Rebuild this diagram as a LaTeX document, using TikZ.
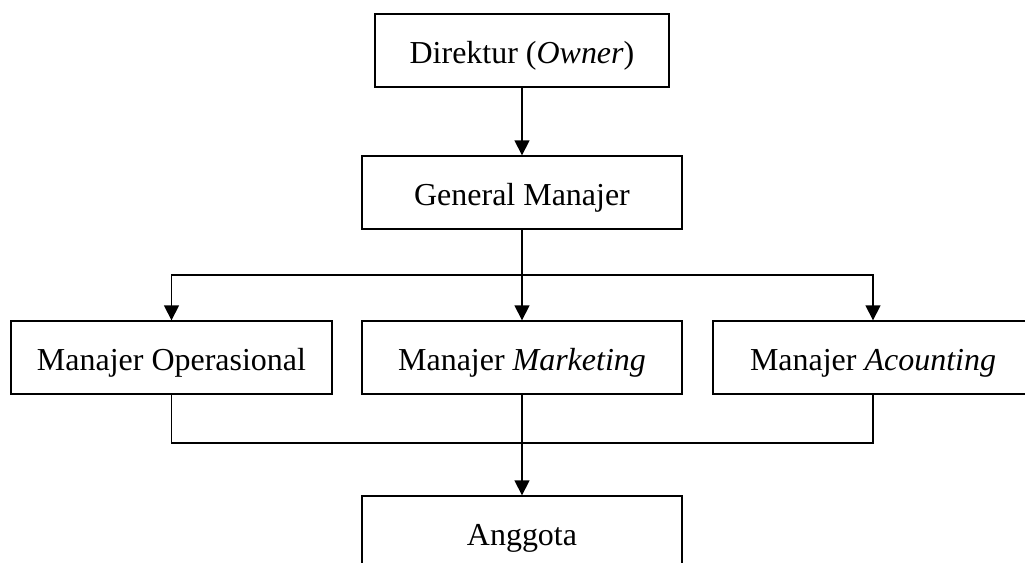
\documentclass[tikz,border=0pt]{standalone}
\usepackage{fontspec}
\setmainfont{Liberation Serif}
\usetikzlibrary{arrows.meta,positioning,calc}

\begin{document}
\begin{tikzpicture}[
  x=0.02cm, y=-0.02cm,
  box/.style={draw, line width=0.75pt, minimum width=6.4cm, minimum height=1.46cm,
              inner sep=0pt, text height=0.6cm, text depth=0.08cm,
              font=\fontsize{18.2}{22}\selectfont},
  link/.style={line width=0.75pt},
  arr/.style={link, -{Triangle[width=0.3cm, length=0.3cm]}}]

\useasboundingbox (0,0) rectangle (1025,563);
\clip (0,0) rectangle (1025,563);

% ================= top ====================================================
\node[box, minimum width=5.88cm] (dir) at (522,50.5) {Direktur (\textit{Owner})};
\node[box] (gm) at (522,192.5) {General Manajer};
\draw[arr] (dir) -- (gm);

% ================= managers ===============================================
\node[box, minimum width=6.42cm] (ops) at (171.5,357.5) {Manajer Operasional};
\node[box] (mkt) at (522,357.5) {Manajer \textit{Marketing}};
\node[box] (acc) at (873,357.5) {Manajer \textit{Acounting}};

\coordinate (split) at ($(gm.south)!0.5!(mkt.north)$);
\draw[link] (gm.south) -- (split);
\draw[arr] (split) -| (ops.north);
\draw[arr] (split) -- (mkt.north);
\draw[arr] (split) -| (acc.north);

% ================= members ================================================
\node[box] (ang) at (522,532.5) {Anggota};
\coordinate (join) at ($(mkt.south)+(0,48.5)$);
\draw[link] (ops.south) |- (join) -| (acc.south);
\draw[arr] (mkt.south) -- (ang.north);

\end{tikzpicture}
\end{document}
